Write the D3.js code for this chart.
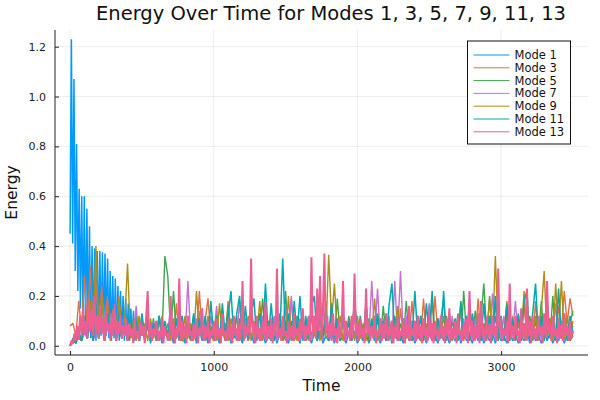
<!DOCTYPE html>
<html>
<head>
<meta charset="utf-8">
<script src="https://cdn.jsdelivr.net/npm/d3@7"></script>
<style>
  body { margin: 0; background: #fff; }
  svg { display: block; font-family: "DejaVu Sans", sans-serif; }
</style>
</head>
<body>
<div id="app"></div>
<script>
// Time grids (x values)
const time = d3.range(0, 3501, 20);        // shared grid for modes 3..11
const fineTime = d3.range(0, 3501, 10);    // mode 13 is on top, read at finer steps
const earlyTime = d3.range(0, 496, 9);     // mode 1 start oscillates fast
const lateTime = d3.range(500, 3501, 20);

const modeNames = ["Mode 1", "Mode 3", "Mode 5", "Mode 7", "Mode 9", "Mode 11", "Mode 13"];
const xTicks = [0, 1000, 2000, 3000];
const yTicks = [0, 0.2, 0.4, 0.6, 0.8, 1.0, 1.2];

// Mode 1 energy
const mode1Early = [
  0.45, 1.23, 0.41, 1.07, 0.30, 0.81, 0.22, 0.63, 0.15, 0.60,
  0.10, 0.60, 0.06, 0.55, 0.04, 0.48, 0.03, 0.40, 0.03, 0.39,
  0.02, 0.38, 0.03, 0.38, 0.04, 0.375, 0.03, 0.37, 0.04, 0.35,
  0.03, 0.30, 0.02, 0.28, 0.03, 0.27, 0.02, 0.24, 0.02, 0.22,
  0.03, 0.20, 0.02, 0.19, 0.03, 0.17, 0.02, 0.15, 0.03, 0.14,
  0.02, 0.12, 0.03, 0.11, 0.02, 0.10
];
const mode1Late = [
  0.08, 0.02, 0.09, 0.01, 0.07, 0.02, 0.06, 0.01, 0.08, 0.02,
  0.05, 0.01, 0.07, 0.02, 0.06, 0.01, 0.05, 0.02, 0.07, 0.01,
  0.06, 0.02, 0.05, 0.01, 0.07, 0.02, 0.04, 0.01, 0.06, 0.02,
  0.05, 0.01, 0.06, 0.02, 0.04, 0.01, 0.07, 0.02, 0.05, 0.01,
  0.06, 0.02, 0.05, 0.01, 0.04, 0.02, 0.06, 0.01, 0.05, 0.02,
  0.04, 0.01, 0.06, 0.02, 0.05, 0.01, 0.07, 0.02, 0.04, 0.01,
  0.05, 0.02, 0.06, 0.01, 0.04, 0.02, 0.05, 0.01, 0.06, 0.02,
  0.04, 0.01, 0.05, 0.02, 0.06, 0.01, 0.04, 0.02, 0.05, 0.01,
  0.06, 0.02, 0.04, 0.01, 0.05, 0.02, 0.07, 0.01, 0.05, 0.02,
  0.04, 0.01, 0.06, 0.02, 0.05, 0.01, 0.04, 0.02, 0.06, 0.01,
  0.05, 0.02, 0.04, 0.01, 0.06, 0.02, 0.05, 0.01, 0.04, 0.02,
  0.06, 0.01, 0.05, 0.02, 0.04, 0.01, 0.06, 0.02, 0.05, 0.01,
  0.04, 0.02, 0.06, 0.01, 0.05, 0.02, 0.04, 0.01, 0.06, 0.02,
  0.05, 0.01, 0.04, 0.02, 0.06, 0.01, 0.05, 0.02, 0.04, 0.01,
  0.06, 0.02, 0.05, 0.01, 0.04, 0.02, 0.06, 0.01, 0.05, 0.02,
  0.04
];

const mode3 = [
  0.08, 0.09, 0.04, 0.18, 0.06, 0.28, 0.05, 0.32, 0.07, 0.26,
  0.04, 0.24, 0.06, 0.20, 0.03, 0.15, 0.05, 0.20, 0.04, 0.12,
  0.03, 0.10, 0.02, 0.12, 0.04, 0.08, 0.02, 0.11, 0.03, 0.09,
  0.02, 0.12, 0.04, 0.07, 0.02, 0.10, 0.03, 0.17, 0.02, 0.08,
  0.03, 0.11, 0.02, 0.09, 0.04, 0.22, 0.03, 0.10, 0.19, 0.04,
  0.02, 0.12, 0.03, 0.08, 0.02, 0.18, 0.04, 0.10, 0.02, 0.09,
  0.03, 0.11, 0.02, 0.17, 0.04, 0.08, 0.02, 0.12, 0.03, 0.10,
  0.02, 0.09, 0.03, 0.12, 0.02, 0.10, 0.04, 0.19, 0.02, 0.08,
  0.03, 0.12, 0.02, 0.10, 0.04, 0.09, 0.02, 0.20, 0.03, 0.11,
  0.02, 0.17, 0.03, 0.09, 0.02, 0.12, 0.04, 0.10, 0.02, 0.19,
  0.03, 0.10, 0.02, 0.17, 0.03, 0.09, 0.02, 0.12, 0.04, 0.10,
  0.02, 0.11, 0.03, 0.08, 0.02, 0.15, 0.03, 0.10, 0.02, 0.18,
  0.03, 0.12, 0.02, 0.19, 0.03, 0.10, 0.02, 0.20, 0.04, 0.11,
  0.18, 0.03, 0.12, 0.02, 0.09, 0.04, 0.16, 0.02, 0.10, 0.03,
  0.12, 0.02, 0.19, 0.03, 0.09, 0.02, 0.11, 0.04, 0.17, 0.02,
  0.10, 0.03, 0.18, 0.02, 0.12, 0.03, 0.09, 0.02, 0.16, 0.04,
  0.11, 0.02, 0.18, 0.03, 0.10, 0.02, 0.20, 0.04, 0.12, 0.03,
  0.16, 0.06, 0.22, 0.09, 0.19, 0.12
];

const mode5 = [
  0.00, 0.02, 0.01, 0.04, 0.02, 0.06, 0.03, 0.10, 0.02, 0.08,
  0.03, 0.11, 0.02, 0.09, 0.04, 0.12, 0.02, 0.08, 0.03, 0.10,
  0.02, 0.09, 0.04, 0.12, 0.02, 0.10, 0.03, 0.08, 0.02, 0.11,
  0.03, 0.12, 0.04, 0.36, 0.28, 0.05, 0.22, 0.03, 0.10, 0.02,
  0.02, 0.10, 0.03, 0.12, 0.02, 0.09, 0.04, 0.11, 0.02, 0.08,
  0.03, 0.12, 0.02, 0.10, 0.04, 0.16, 0.02, 0.09, 0.03, 0.11,
  0.02, 0.10, 0.03, 0.12, 0.02, 0.09, 0.04, 0.19, 0.02, 0.10,
  0.03, 0.11, 0.02, 0.13, 0.03, 0.22, 0.02, 0.10, 0.04, 0.12,
  0.02, 0.09, 0.03, 0.12, 0.02, 0.10, 0.04, 0.17, 0.02, 0.09,
  0.03, 0.11, 0.02, 0.19, 0.03, 0.10, 0.02, 0.12, 0.04, 0.17,
  0.02, 0.10, 0.03, 0.12, 0.02, 0.09, 0.04, 0.11, 0.02, 0.16,
  0.03, 0.10, 0.02, 0.12, 0.04, 0.09, 0.02, 0.18, 0.03, 0.10,
  0.02, 0.12, 0.03, 0.10, 0.02, 0.16, 0.04, 0.09, 0.02, 0.11,
  0.03, 0.12, 0.02, 0.10, 0.04, 0.13, 0.02, 0.22, 0.03, 0.12,
  0.02, 0.14, 0.03, 0.11, 0.25, 0.04, 0.20, 0.03, 0.12, 0.02,
  0.11, 0.03, 0.17, 0.02, 0.10, 0.04, 0.12, 0.02, 0.09, 0.03,
  0.12, 0.02, 0.10, 0.04, 0.18, 0.02, 0.11, 0.03, 0.20, 0.02,
  0.10, 0.03, 0.12, 0.04, 0.09, 0.14
];

const mode7 = [
  0.00, 0.01, 0.02, 0.03, 0.02, 0.05, 0.03, 0.08, 0.02, 0.06,
  0.03, 0.09, 0.02, 0.07, 0.04, 0.10, 0.02, 0.08, 0.03, 0.12,
  0.02, 0.10, 0.03, 0.16, 0.02, 0.09, 0.04, 0.12, 0.02, 0.10,
  0.03, 0.11, 0.02, 0.09, 0.04, 0.17, 0.02, 0.10, 0.03, 0.12,
  0.02, 0.26, 0.03, 0.11, 0.02, 0.14, 0.04, 0.10, 0.02, 0.12,
  0.03, 0.16, 0.02, 0.10, 0.04, 0.12, 0.02, 0.09, 0.03, 0.18,
  0.02, 0.11, 0.03, 0.19, 0.02, 0.10, 0.04, 0.12, 0.02, 0.09,
  0.03, 0.12, 0.02, 0.10, 0.04, 0.16, 0.02, 0.20, 0.03, 0.11,
  0.02, 0.10, 0.03, 0.12, 0.02, 0.09, 0.04, 0.11, 0.02, 0.18,
  0.03, 0.11, 0.02, 0.09, 0.04, 0.12, 0.02, 0.10, 0.03, 0.12,
  0.02, 0.10, 0.03, 0.12, 0.04, 0.26, 0.03, 0.23, 0.02, 0.11,
  0.03, 0.12, 0.02, 0.26, 0.04, 0.30, 0.02, 0.12, 0.03, 0.10,
  0.02, 0.12, 0.03, 0.10, 0.02, 0.17, 0.04, 0.09, 0.02, 0.11,
  0.03, 0.10, 0.02, 0.12, 0.04, 0.09, 0.02, 0.11, 0.03, 0.19,
  0.02, 0.11, 0.03, 0.09, 0.02, 0.12, 0.04, 0.21, 0.02, 0.10,
  0.03, 0.12, 0.02, 0.10, 0.04, 0.18, 0.02, 0.09, 0.03, 0.11,
  0.02, 0.10, 0.03, 0.12, 0.02, 0.09, 0.04, 0.11, 0.02, 0.17,
  0.03, 0.10, 0.02, 0.12, 0.04, 0.08
];

const mode9 = [
  0.00, 0.02, 0.01, 0.05, 0.02, 0.10, 0.03, 0.18, 0.05, 0.40,
  0.04, 0.20, 0.03, 0.15, 0.02, 0.12, 0.04, 0.19, 0.03, 0.10,
  0.33, 0.03, 0.10, 0.02, 0.12, 0.04, 0.09, 0.02, 0.11, 0.03,
  0.10, 0.02, 0.12, 0.04, 0.09, 0.02, 0.11, 0.03, 0.10, 0.02,
  0.12, 0.03, 0.09, 0.02, 0.22, 0.04, 0.10, 0.02, 0.12, 0.03,
  0.10, 0.02, 0.17, 0.04, 0.09, 0.02, 0.11, 0.03, 0.12, 0.02,
  0.09, 0.03, 0.12, 0.02, 0.10, 0.04, 0.18, 0.02, 0.11, 0.03,
  0.10, 0.02, 0.12, 0.04, 0.09, 0.02, 0.20, 0.03, 0.10, 0.02,
  0.11, 0.03, 0.09, 0.02, 0.12, 0.04, 0.10, 0.02, 0.17, 0.03,
  0.365, 0.10, 0.25, 0.03, 0.12, 0.02, 0.10, 0.04, 0.11, 0.02,
  0.12, 0.03, 0.09, 0.02, 0.11, 0.04, 0.19, 0.02, 0.10, 0.03,
  0.12, 0.02, 0.10, 0.04, 0.16, 0.02, 0.09, 0.03, 0.11, 0.02,
  0.10, 0.03, 0.12, 0.02, 0.09, 0.04, 0.18, 0.02, 0.11, 0.03,
  0.12, 0.02, 0.10, 0.04, 0.09, 0.02, 0.17, 0.03, 0.11, 0.02,
  0.10, 0.03, 0.12, 0.02, 0.09, 0.04, 0.19, 0.03, 0.36, 0.05,
  0.10, 0.02, 0.12, 0.04, 0.09, 0.02, 0.11, 0.03, 0.22, 0.02,
  0.10, 0.04, 0.12, 0.02, 0.14, 0.30, 0.03, 0.11, 0.02, 0.25,
  0.04, 0.26, 0.03, 0.12, 0.02, 0.10
];

const mode11 = [
  0.00, 0.03, 0.01, 0.06, 0.02, 0.12, 0.03, 0.10, 0.02, 0.14,
  0.03, 0.11, 0.02, 0.13, 0.04, 0.10, 0.02, 0.12, 0.03, 0.09,
  0.02, 0.12, 0.03, 0.10, 0.02, 0.13, 0.04, 0.11, 0.02, 0.09,
  0.03, 0.12, 0.02, 0.10, 0.04, 0.13, 0.02, 0.11, 0.03, 0.12,
  0.02, 0.10, 0.03, 0.13, 0.02, 0.11, 0.04, 0.12, 0.02, 0.18,
  0.03, 0.12, 0.02, 0.17, 0.04, 0.12, 0.22, 0.03, 0.13, 0.20,
  0.02, 0.16, 0.03, 0.12, 0.19, 0.02, 0.13, 0.04, 0.25, 0.03,
  0.17, 0.02, 0.12, 0.04, 0.35, 0.03, 0.13, 0.02, 0.18, 0.04,
  0.20, 0.02, 0.12, 0.03, 0.16, 0.20, 0.02, 0.11, 0.04, 0.13,
  0.02, 0.17, 0.03, 0.11, 0.02, 0.13, 0.04, 0.10, 0.02, 0.19,
  0.03, 0.12, 0.02, 0.17, 0.04, 0.11, 0.02, 0.13, 0.03, 0.10,
  0.02, 0.16, 0.25, 0.03, 0.12, 0.02, 0.11, 0.04, 0.13, 0.02,
  0.22, 0.03, 0.12, 0.02, 0.17, 0.04, 0.22, 0.02, 0.11, 0.03,
  0.22, 0.02, 0.13, 0.04, 0.11, 0.02, 0.18, 0.03, 0.12, 0.02,
  0.13, 0.04, 0.11, 0.02, 0.17, 0.03, 0.12, 0.02, 0.20, 0.04,
  0.12, 0.02, 0.16, 0.03, 0.11, 0.02, 0.13, 0.04, 0.18, 0.22,
  0.02, 0.13, 0.25, 0.03, 0.12, 0.02, 0.17, 0.04, 0.11, 0.02,
  0.23, 0.03, 0.13, 0.02, 0.12, 0.05
];

// Mode 13, every 10 time units
const mode13 = [
  0.00, 0.02, 0.01, 0.05, 0.02, 0.08, 0.03, 0.12, 0.04, 0.15, 0.05, 0.10, 0.03, 0.18, 0.06, 0.14, 0.04, 0.20, 0.05, 0.12,
  0.03, 0.16, 0.05, 0.11, 0.02, 0.14, 0.06, 0.09, 0.03, 0.13, 0.04, 0.17, 0.02, 0.10, 0.05, 0.12, 0.03, 0.08, 0.04, 0.11,
  0.02, 0.09, 0.04, 0.07, 0.01, 0.11, 0.03, 0.06, 0.02, 0.10, 0.04, 0.08, 0.01, 0.12, 0.22, 0.03, 0.09, 0.02, 0.07, 0.04,
  0.10, 0.02, 0.06, 0.03, 0.11, 0.01, 0.08, 0.04, 0.05, 0.02, 0.20, 0.03, 0.09, 0.01, 0.07, 0.04, 0.27, 0.02, 0.10, 0.03,
  0.08, 0.01, 0.12, 0.04, 0.06, 0.02, 0.09, 0.03, 0.11, 0.01, 0.07, 0.04, 0.15, 0.02, 0.08, 0.03, 0.10, 0.01, 0.06, 0.04,
  0.09, 0.02, 0.11, 0.03, 0.07, 0.01, 0.13, 0.04, 0.06, 0.02, 0.10, 0.03, 0.08, 0.01, 0.12, 0.04, 0.07, 0.02, 0.09, 0.03,
  0.26, 0.02, 0.08, 0.04, 0.11, 0.03, 0.35, 0.05, 0.09, 0.01, 0.12, 0.03, 0.07, 0.02, 0.10, 0.04, 0.18, 0.02, 0.08, 0.03,
  0.11, 0.01, 0.09, 0.04, 0.31, 0.03, 0.07, 0.02, 0.12, 0.04, 0.06, 0.01, 0.10, 0.03, 0.08, 0.02, 0.13, 0.04, 0.07, 0.02,
  0.10, 0.03, 0.15, 0.02, 0.08, 0.04, 0.11, 0.02, 0.355, 0.05, 0.12, 0.03, 0.23, 0.06, 0.28, 0.04, 0.14, 0.37, 0.05, 0.12,
  0.03, 0.09, 0.02, 0.13, 0.04, 0.07, 0.01, 0.11, 0.03, 0.08, 0.26, 0.02, 0.10, 0.04, 0.06, 0.02, 0.12, 0.03, 0.29, 0.04,
  0.09, 0.02, 0.11, 0.03, 0.07, 0.01, 0.23, 0.04, 0.10, 0.02, 0.08, 0.03, 0.12, 0.01, 0.06, 0.04, 0.11, 0.02, 0.09, 0.03,
  0.13, 0.02, 0.07, 0.04, 0.10, 0.01, 0.08, 0.03, 0.12, 0.02, 0.06, 0.04, 0.11, 0.01, 0.09, 0.03, 0.16, 0.02, 0.07, 0.04,
  0.10, 0.02, 0.12, 0.03, 0.08, 0.01, 0.11, 0.04, 0.07, 0.02, 0.13, 0.03, 0.09, 0.01, 0.10, 0.04, 0.06, 0.02, 0.12, 0.03,
  0.08, 0.01, 0.11, 0.04, 0.15, 0.02, 0.07, 0.03, 0.10, 0.01, 0.12, 0.04, 0.06, 0.02, 0.09, 0.03, 0.11, 0.01, 0.22, 0.04,
  0.10, 0.02, 0.08, 0.03, 0.13, 0.01, 0.18, 0.04, 0.07, 0.02, 0.11, 0.03, 0.09, 0.01, 0.12, 0.04, 0.08, 0.02, 0.31, 0.05,
  0.11, 0.02, 0.07, 0.04, 0.10, 0.01, 0.25, 0.03, 0.08, 0.02, 0.12, 0.04, 0.06, 0.01, 0.15, 0.03, 0.09, 0.02, 0.23, 0.04,
  0.10, 0.01, 0.12, 0.03, 0.07, 0.02, 0.11, 0.04, 0.08, 0.01, 0.13, 0.03, 0.26, 0.05, 0.09, 0.02, 0.12, 0.04, 0.07, 0.01,
  0.11, 0.03, 0.09, 0.02, 0.13, 0.04, 0.08, 0.02, 0.10, 0.03, 0.06
];

const colors = ["#009AFA", "#E36F47", "#3EA44E", "#C371D2", "#AC8E18", "#00A9AD", "#ED5E93"];
// the real curves have thousands of samples; thicker strokes stand in for that density
const strokeWidths = [1.5, 1.4, 1.4, 1.4, 1.4, 1.5, 2.0];

const width = 600, height = 400;
const margin = { top: 30, right: 12, bottom: 45, left: 55 };

const series = [
  { name: modeNames[0], t: earlyTime.concat(lateTime), v: mode1Early.concat(mode1Late) },
  { name: modeNames[1], t: time, v: mode3 },
  { name: modeNames[2], t: time, v: mode5 },
  { name: modeNames[3], t: time, v: mode7 },
  { name: modeNames[4], t: time, v: mode9 },
  { name: modeNames[5], t: time, v: mode11 },
  { name: modeNames[6], t: fineTime, v: mode13 }
];

// Plots.jl style 3% padding on both axes
const xMax = d3.max(series, s => d3.max(s.t));
const yMax = d3.max(series, s => d3.max(s.v));
const xPad = xMax * 0.03, yPad = yMax * 0.03;

const x = d3.scaleLinear().domain([-xPad, xMax + xPad]).range([margin.left, width - margin.right]);
const y = d3.scaleLinear().domain([-yPad, yMax + yPad]).range([height - margin.bottom, margin.top]);

const svg = d3.select("#app").append("svg").attr("width", width).attr("height", height);

// grid
const grid = svg.append("g").attr("stroke", "#000").attr("stroke-opacity", 0.09).attr("stroke-width", 0.8);
grid.selectAll(".gx").data(xTicks).join("line")
  .attr("x1", d => x(d)).attr("x2", d => x(d))
  .attr("y1", margin.top).attr("y2", height - margin.bottom);
grid.selectAll(".gy").data(yTicks).join("line")
  .attr("y1", d => y(d)).attr("y2", d => y(d))
  .attr("x1", margin.left).attr("x2", width - margin.right);

// lines
const line = d3.line().x(d => x(d[0])).y(d => y(d[1]));
svg.append("g").attr("fill", "none").attr("stroke-linejoin", "bevel")
  .selectAll("path")
  .data(series)
  .join("path")
  .attr("stroke", (d, i) => colors[i])
  .attr("stroke-width", (d, i) => strokeWidths[i])
  .attr("d", d => line(d.t.map((t, i) => [t, d.v[i]])));

// axes, ticks inward
const xAxis = svg.append("g")
  .attr("transform", `translate(0,${height - margin.bottom})`)
  .call(d3.axisBottom(x).tickValues(xTicks).tickFormat(d3.format("d")).tickSize(-4).tickSizeOuter(0).tickPadding(8));
const yAxis = svg.append("g")
  .attr("transform", `translate(${margin.left},0)`)
  .call(d3.axisLeft(y).tickValues(yTicks).tickFormat(d3.format(".1f")).tickSize(-4).tickSizeOuter(0).tickPadding(9));

[xAxis, yAxis].forEach(a => {
  a.select(".domain").attr("stroke", "#222");
  a.selectAll(".tick line").attr("stroke", "#222");
  a.selectAll("text").attr("fill", "#222").style("font-size", "11px").style("font-family", "DejaVu Sans");
});
// the axis line spans the whole plot box
xAxis.select(".domain").attr("d", `M${margin.left},0H${width - margin.right}`);
yAxis.select(".domain").attr("d", `M0,${margin.top}V${height - margin.bottom}`);

// titles
svg.append("text")
  .attr("x", 331).attr("y", 20)
  .attr("text-anchor", "middle").attr("font-size", "19.5px").attr("fill", "#111")
  .text("Energy Over Time for Modes 1, 3, 5, 7, 9, 11, 13");
svg.append("text")
  .attr("x", (margin.left + width - margin.right) / 2).attr("y", 391)
  .attr("text-anchor", "middle").attr("font-size", "15.5px").attr("fill", "#111")
  .text("Time");
svg.append("text")
  .attr("transform", `translate(17,${(margin.top + height - margin.bottom) / 2}) rotate(-90)`)
  .attr("text-anchor", "middle").attr("font-size", "15.5px").attr("fill", "#111")
  .text("Energy");

// legend
const legend = svg.append("g").attr("transform", "translate(467.5,41)");
legend.append("rect").attr("width", 103).attr("height", 103)
  .attr("fill", "#fff").attr("stroke", "#111").attr("stroke-width", 1);
const item = legend.selectAll(".item").data(series).join("g")
  .attr("transform", (d, i) => `translate(0,${14 + i * 12.8})`);
item.append("line").attr("x1", 6).attr("x2", 42)
  .attr("stroke", (d, i) => colors[i]).attr("stroke-width", 1);
item.append("text").attr("x", 47).attr("dy", "0.35em")
  .attr("font-size", "11.5px").attr("fill", "#111")
  .text(d => d.name);
</script>
</body>
</html>
